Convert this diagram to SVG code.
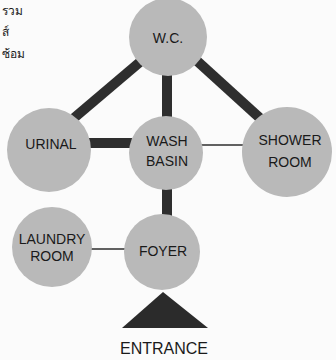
<svg xmlns="http://www.w3.org/2000/svg" width="336" height="360" viewBox="0 0 336 360">
<style>
.node{fill:#b9b9b9;}
.lbl{font-family:"Liberation Sans","DejaVu Sans",sans-serif;font-size:14px;fill:#1a1a1a;text-anchor:middle;}
.thick{stroke:#2e2e2e;stroke-width:10;fill:none;}
.thin{stroke:#2e2e2e;stroke-width:1.5;fill:none;}
.thai{font-family:"Noto Sans","Noto Sans CJK SC",sans-serif;font-size:12px;fill:#1a1a1a;}
</style>
<rect width="336" height="360" fill="#fbfbfb"/>
<g id="note">
<text class="thai" x="2" y="15">รวม</text>
<text class="thai" x="2" y="36">ส์</text>
<text class="thai" x="2" y="58">ซ้อม</text>
</g>
<g id="connectors">
<line class="thick" x1="140" y1="62" x2="74" y2="118"/>
<line class="thick" x1="196" y1="60" x2="262" y2="120"/>
<line class="thick" x1="167" y1="70" x2="167" y2="120"/>
<line class="thick" x1="86" y1="143" x2="132" y2="143"/>
<line class="thin" x1="200" y1="145" x2="244" y2="145"/>
<line class="thick" x1="167" y1="185" x2="167" y2="220"/>
<line class="thin" x1="90" y1="249" x2="128" y2="249"/>
</g>
<g id="wc"><circle class="node" cx="168" cy="37" r="39"/><text class="lbl" x="168" y="43">W.C.</text></g>
<g id="urinal"><circle class="node" cx="49" cy="150" r="42"/><text class="lbl" x="51" y="149">URINAL</text></g>
<g id="washbasin"><circle class="node" cx="166" cy="153" r="37"/><text class="lbl" x="167" y="146">WASH</text><text class="lbl" x="167" y="166">BASIN</text></g>
<g id="shower"><circle class="node" cx="287" cy="152" r="45"/><text class="lbl" x="290" y="145">SHOWER</text><text class="lbl" x="290" y="167">ROOM</text></g>
<g id="laundry"><circle class="node" cx="52" cy="247" r="40"/><text class="lbl" x="52" y="244">LAUNDRY</text><text class="lbl" x="52" y="261">ROOM</text></g>
<g id="foyer"><circle class="node" cx="162" cy="252" r="38"/><text class="lbl" x="163" y="256">FOYER</text></g>
<g id="entrance"><polygon points="163,292 122,328 208,328" fill="#2b2b2b"/><text class="lbl" x="164" y="354" style="font-size:16px">ENTRANCE</text></g>
</svg>
